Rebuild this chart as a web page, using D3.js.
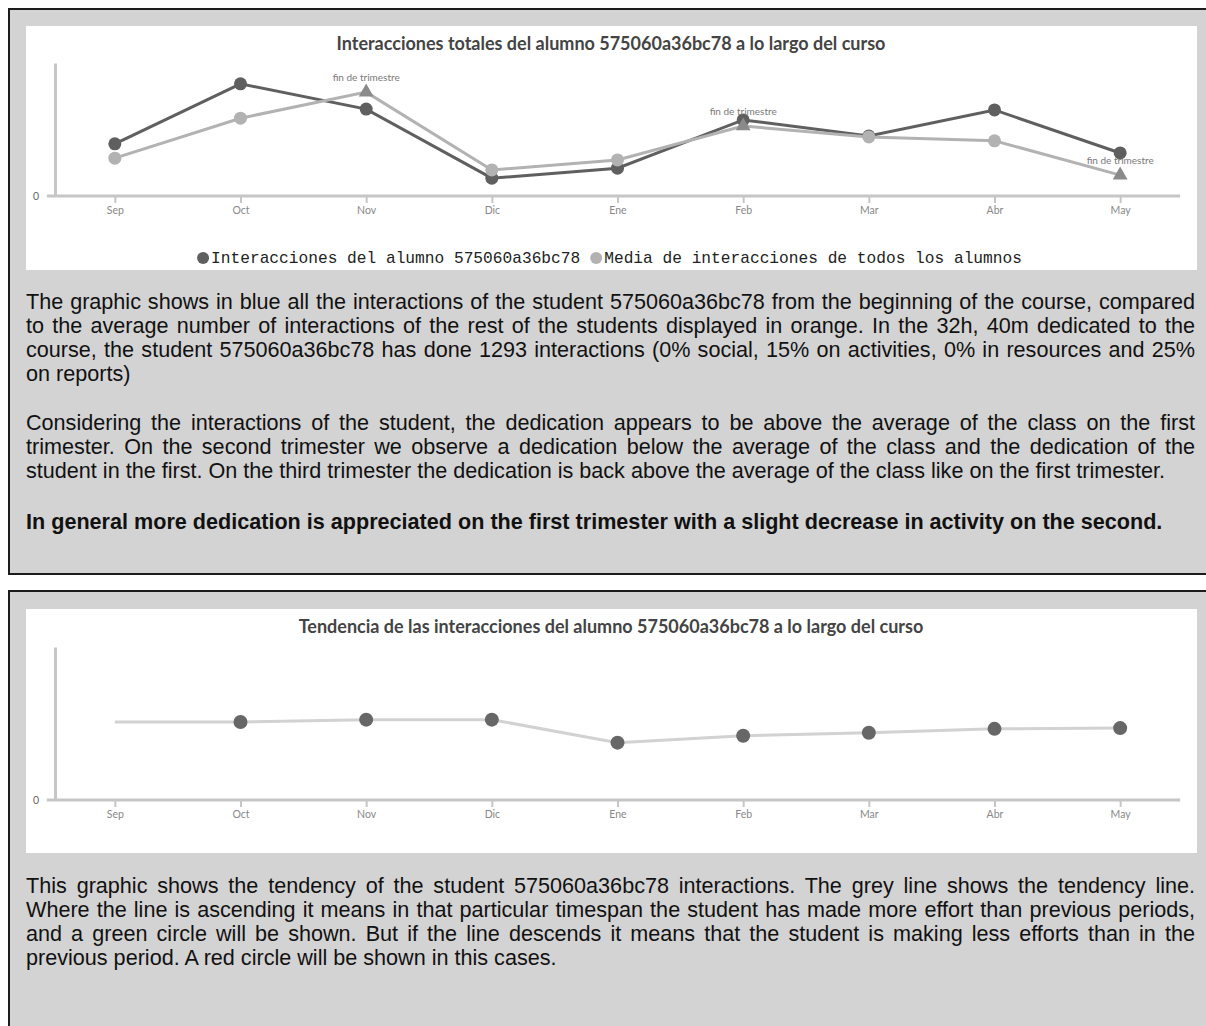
<!DOCTYPE html>
<html>
<head>
<meta charset="utf-8">
<script src="https://cdn.jsdelivr.net/npm/d3@7"></script>
<style>
  body { margin: 0; width: 1206px; height: 1026px; overflow: hidden; position: relative; background: #fff;
         font-family: "Liberation Sans", Arial, Helvetica, sans-serif; }
  .panel { position: absolute; left: 8px; width: 1230px; background: #d3d3d3;
           border: 2px solid #1c1c1c; box-sizing: border-box; }
  .chart { position: absolute; left: 26px; width: 1171px; height: 244px; background: #fff; }
  .chart svg { display: block; }
  .txt { position: absolute; left: 26px; width: 1169px; font-size: 21.6px; line-height: 24px; color: #111; }
  .txt div { text-align: justify; text-align-last: justify; white-space: normal; }
  .txt div.last { text-align-last: left; }
  .txt.bold { font-weight: bold; }
</style>
</head>
<body>
<script>
// Months of the course
const months = ["Sep", "Oct", "Nov", "Dic", "Ene", "Feb", "Mar", "Abr", "May"];
// Monthly interactions of the student
const studentInteractions = [120, 258, 200, 41, 64, 175, 138, 198, 99];
// Monthly average interactions of all students
const classAverage = [87, 179, 239, 60, 83, 161, 136, 127, 48];
// Months that close a trimester
const trimesterEnds = ["Nov", "Feb", "May"];
// Tendency of the student's interactions
const trendValues = [102, 102, 105, 105, 75, 84, 88, 93, 94];
// Months where a tendency marker is drawn
const trendMarkerMonths = ["Oct", "Nov", "Dic", "Ene", "Feb", "Mar", "Abr", "May"];

const legendLabels = ["Interacciones del alumno 575060a36bc78", "Media de interacciones de todos los alumnos"];
const title1 = "Interacciones totales del alumno 575060a36bc78 a lo largo del curso";
const title2 = "Tendencia de las interacciones del alumno 575060a36bc78 a lo largo del curso";
const endLabel = "fin de trimestre";

const para1 = [
  "The graphic shows in blue all the interactions of the student 575060a36bc78 from the beginning of the course, compared",
  "to the average number of interactions of the rest of the students displayed in orange. In the 32h, 40m dedicated to the",
  "course, the student 575060a36bc78 has done 1293 interactions (0% social, 15% on activities, 0% in resources and 25%",
  "on reports)"
];
const para2 = [
  "Considering the interactions of the student, the dedication appears to be above the average of the class on the first",
  "trimester. On the second trimester we observe a dedication below the average of the class and the dedication of the",
  "student in the first. On the third trimester the dedication is back above the average of the class like on the first trimester."
];
const para3 = ["In general more dedication is appreciated on the first trimester with a slight decrease in activity on the second."];
const para4 = [
  "This graphic shows the tendency of the student 575060a36bc78 interactions. The grey line shows the tendency line.",
  "Where the line is ascending it means in that particular timespan the student has made more effort than previous periods,",
  "and a green circle will be shown. But if the line descends it means that the student is making less efforts than in the",
  "previous period. A red circle will be shown in this cases."
];

const body = d3.select("body");
const W = 1171, H = 244;
const DARK = "#5f5f5f", LIGHT = "#b2b2b2", TRI = "#8a8a8a", AXIS = "#c6c6c6";
const axisFont = "Lato, 'Open Sans', sans-serif";

// Panels
body.append("div").attr("class", "panel").style("top", "8px").style("height", "567px");
body.append("div").attr("class", "panel").style("top", "590px").style("height", "520px");

function paragraph(lines, top, bold) {
  const d = body.append("div").attr("class", "txt" + (bold ? " bold" : "")).style("top", top + "px");
  d.selectAll("div").data(lines).join("div")
    .attr("class", (t, i) => i === lines.length - 1 ? "last" : null)
    .text(t => t);
}

// Shared frame: title, x axis, y axis
function frame(top, title, axisY, topY, yMax) {
  const svg = body.append("div").attr("class", "chart").style("top", top + "px")
    .append("svg").attr("width", W).attr("height", H);

  const x = d3.scalePoint().domain(months).range([26, 1157]).padding(0.5);
  const y = d3.scaleLinear().domain([0, yMax]).range([axisY, topY]);

  svg.append("text").attr("x", 585).attr("y", 24).attr("text-anchor", "middle")
    .attr("font-family", axisFont).attr("font-weight", "bold").attr("font-size", 18)
    .attr("fill", "#444").text(title);

  // x axis baseline, extending a little past the first and last month
  svg.append("line")
    .attr("x1", x(months[0]) - 68).attr("x2", x(months[months.length - 1]) + 60)
    .attr("y1", y(0)).attr("y2", y(0))
    .attr("stroke", AXIS).attr("stroke-width", 3);

  const gx = svg.append("g").attr("transform", `translate(0,${y(0)})`)
    .call(d3.axisBottom(x).tickSize(7).tickSizeOuter(0).tickPadding(4));
  gx.select(".domain").remove();
  gx.selectAll(".tick line").attr("stroke", AXIS).attr("stroke-width", 2);
  gx.selectAll(".tick text").attr("font-family", axisFont).attr("font-size", 10.5).attr("fill", "#888");

  const gy = svg.append("g").attr("transform", "translate(29,0)")
    .call(d3.axisLeft(y).tickValues([0]).tickSize(0).tickSizeOuter(0).tickPadding(16));
  gy.select(".domain").attr("stroke", AXIS).attr("stroke-width", 3);
  gy.selectAll(".tick text").attr("font-family", axisFont).attr("font-size", 10.5).attr("fill", "#666");

  return { svg, x, y };
}

// Chart 1: student vs class average
{
  const { svg, x, y } = frame(26, title1, 170, 37, 306);
  const line = d3.line().x((d, i) => x(months[i])).y(d => y(d));

  svg.append("path").datum(studentInteractions).attr("d", line)
    .attr("fill", "none").attr("stroke", DARK).attr("stroke-width", 3);
  svg.append("g").selectAll("circle").data(studentInteractions).join("circle")
    .attr("cx", (d, i) => x(months[i])).attr("cy", d => y(d)).attr("r", 6.5).attr("fill", DARK);

  svg.append("path").datum(classAverage).attr("d", line)
    .attr("fill", "none").attr("stroke", LIGHT).attr("stroke-width", 3);
  const avg = months.map((m, i) => ({ m, v: classAverage[i], end: trimesterEnds.includes(m) }));
  svg.append("g").selectAll("circle").data(avg.filter(d => !d.end)).join("circle")
    .attr("cx", d => x(d.m)).attr("cy", d => y(d.v)).attr("r", 6.5).attr("fill", LIGHT);
  svg.append("g").selectAll("path").data(avg.filter(d => d.end)).join("path")
    .attr("d", d3.symbol(d3.symbolTriangle, 95))
    .attr("transform", d => `translate(${x(d.m)},${y(d.v)})`).attr("fill", TRI);
  svg.append("g").selectAll("text").data(avg.filter(d => d.end)).join("text")
    .attr("x", d => x(d.m)).attr("y", d => y(d.v) - 11).attr("text-anchor", "middle")
    .attr("font-family", axisFont).attr("font-size", 10).attr("fill", "#7a7a7a").text(endLabel);

  // Legend, centred under the plot
  const lg = svg.append("g");
  const colors = [DARK, LIGHT];
  let cx = 0;
  legendLabels.forEach((lab, i) => {
    lg.append("circle").attr("cx", cx + 6).attr("cy", 232).attr("r", 6).attr("fill", colors[i]);
    const t = lg.append("text").attr("x", cx + 14).attr("y", 237)
      .attr("font-family", "'Liberation Mono', 'Courier New', monospace").attr("font-size", 16.2)
      .attr("fill", "#222").text(lab);
    cx += 14 + t.node().getComputedTextLength() + 10;
  });
  const lw = cx - 10;
  lg.attr("transform", `translate(${(W - lw) / 2 - 2},0)`);
}

// Chart 2: tendency line
{
  const { svg, x, y } = frame(609, title2, 191, 38, 200);
  const line = d3.line().x((d, i) => x(months[i])).y(d => y(d));
  svg.append("path").datum(trendValues).attr("d", line)
    .attr("fill", "none").attr("stroke", "#d2d2d2").attr("stroke-width", 3);
  svg.append("g").selectAll("circle")
    .data(months.map((m, i) => ({ m, v: trendValues[i] })).filter(d => trendMarkerMonths.includes(d.m)))
    .join("circle")
    .attr("cx", d => x(d.m)).attr("cy", d => y(d.v)).attr("r", 7).attr("fill", "#676767");
}

paragraph(para1, 290, false);
paragraph(para2, 411, false);
paragraph(para3, 510, true);
paragraph(para4, 874, false);
</script>
</body>
</html>
